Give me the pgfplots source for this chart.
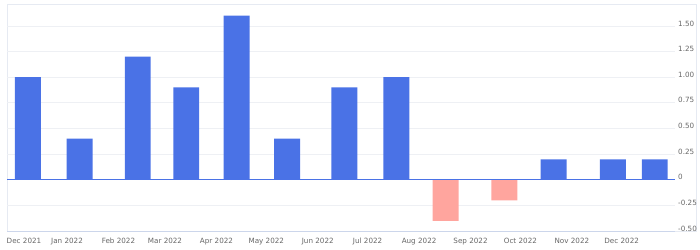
\documentclass[border=0pt]{standalone}
\usepackage{fontspec}
\setmainfont{DejaVu Sans}
\usepackage{pgfplots}
\pgfplotsset{compat=1.18}
\definecolor{barblue}{HTML}{4A72E6}
\definecolor{barpink}{HTML}{FFA59E}
\definecolor{gridc}{HTML}{EEF0F4}
\definecolor{framec}{HTML}{E6EAF2}
\definecolor{axisc}{HTML}{CCD6EB}
\definecolor{labc}{HTML}{666666}
\begin{document}
\begin{tikzpicture}[x=1bp,y=1bp]
\useasboundingbox (0,0) rectangle (700,249);
\draw[framec, line width=0.8bp] (7,18) rectangle (696,245);
\begin{axis}[
  at={(7bp,18bp)}, anchor=south west,
  scale only axis, width=668bp, height=227bp,
  xmin=-36.13, xmax=366.1, ymin=-0.5, ymax=1.7146,
  axis x line*=bottom, axis y line*=right,
  x axis line style={axisc, line width=0.8bp, -},
  y axis line style={draw=none},
  major tick length=0pt,
  xtick={-25.9,0,31,59,90,120,151,181,212,243,273,304,334},
  xticklabels={Dec 2021,Jan 2022,Feb 2022,Mar 2022,Apr 2022,May 2022,Jun 2022,Jul 2022,Aug 2022,Sep 2022,Oct 2022,Nov 2022,Dec 2022},
  xticklabel style={anchor=north, inner sep=0pt, yshift=-7.3bp, font=\fontsize{7.2bp}{8bp}\selectfont, text=labc},
  ytick={-0.5,-0.25,0,0.25,0.5,0.75,1,1.25,1.5},
  yticklabels={-0.50,-0.25,0,0.25,0.50,0.75,1.00,1.25,1.50},
  ymajorgrids,
  major grid style={gridc, line width=0.8bp},
  yticklabel style={anchor=west, inner sep=0pt, xshift=3bp, yshift=2.5bp, font=\fontsize{7.2bp}{8bp}\selectfont, text=labc},
]
\addplot[ybar, bar width=15.65, bar shift=0pt, fill=barblue, draw=none] coordinates {
  (-23.6,1.0) (7.6,0.4) (42.6,1.2) (71.8,0.9) (102.2,1.6) (132.5,0.4) (167,0.9) (198.3,1.0) (293,0.2) (328.7,0.2) (353.9,0.2)
};
\addplot[ybar, bar width=15.65, bar shift=0pt, fill=barpink, draw=none] coordinates {
  (228,-0.4) (263.3,-0.2)
};
\addplot[barblue, line width=1bp, no marks] coordinates {(-36.13,0) (366.1,0)};
\end{axis}
\end{tikzpicture}
\end{document}
